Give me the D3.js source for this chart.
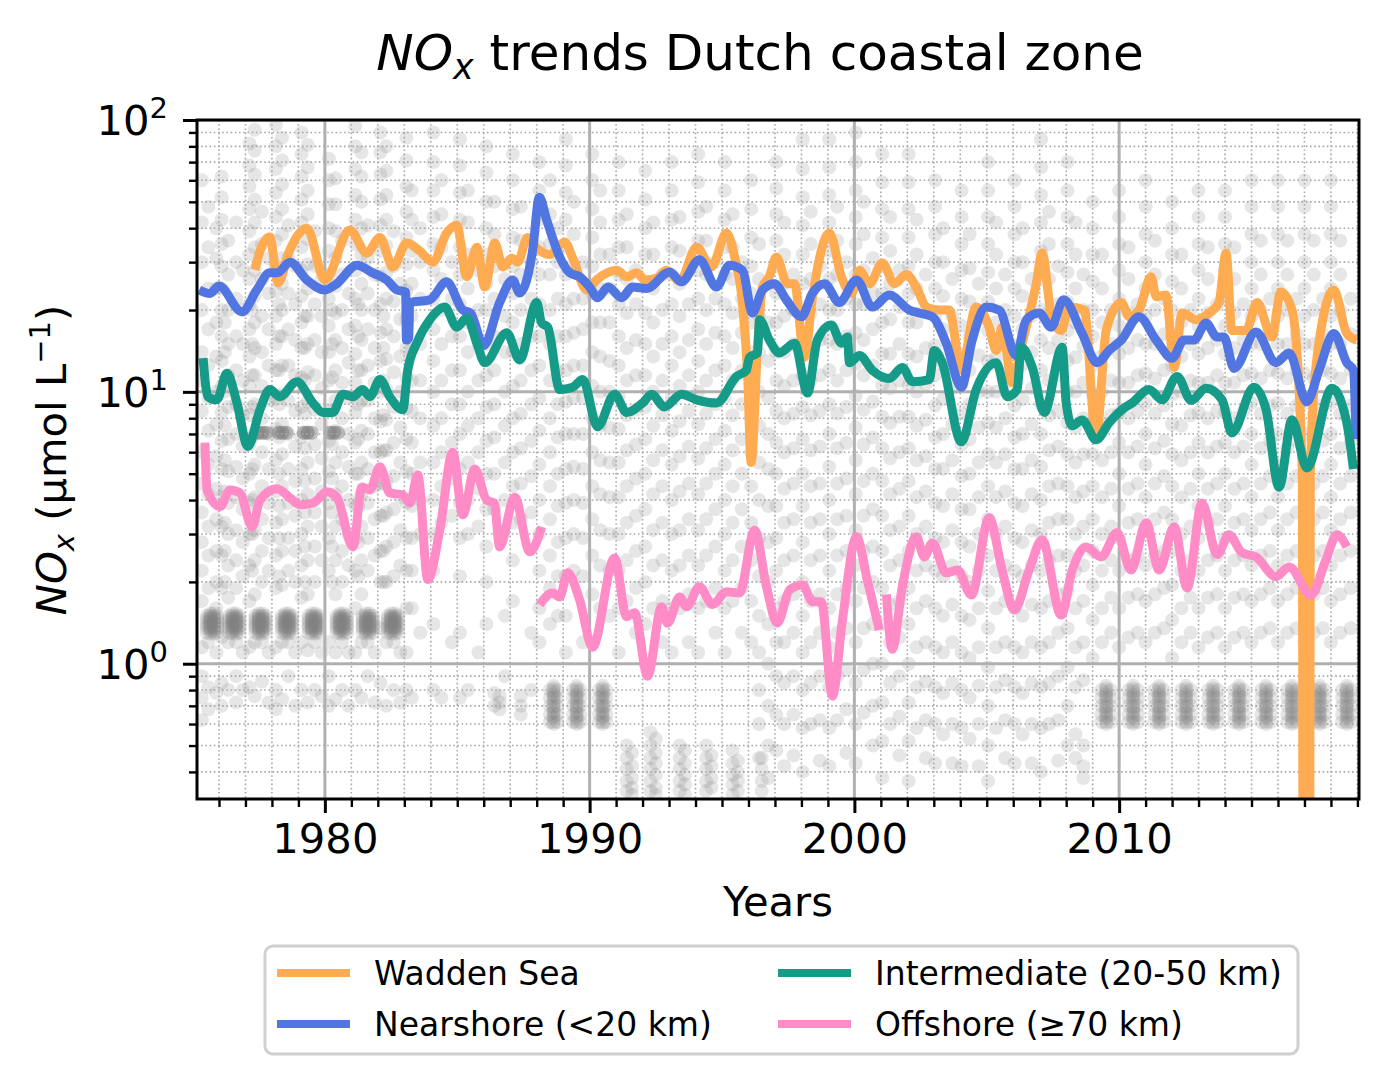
<!DOCTYPE html>
<html lang="en">
<head>
<meta charset="utf-8">
<title>NOx trends Dutch coastal zone</title>
<script src="https://cdn.jsdelivr.net/npm/d3@7"></script>
<style>
  body { margin: 0; background: #fff; overflow: hidden; }
  svg { display: block; }
  text { font-family: "DejaVu Sans", sans-serif; fill: #000; }
</style>
</head>
<body>
<script>
// ---- data: [year, value] ----
var wadden = [
  [1977.36,28.1],[1977.55,33],[1977.92,37.1],[1978.23,25.2],[1978.68,33.3],[1979.32,40],[1980.0,25.8],
  [1980.94,39.4],[1981.58,32.4],[1982.08,37],[1982.57,28.8],[1983.09,35.3],[1983.58,33],[1984.08,30],
  [1984.6,38.4],[1984.98,41],[1985.36,26.5],[1985.74,34],[1986.04,24.3],[1986.42,35.3],[1986.72,28.8],
  [1987.06,31],[1987.28,30],[1987.66,37],[1988.0,33.8],[1988.49,32],[1989.06,35.6],[1989.36,31],
  [1989.89,23.7],[1990.26,25.8],[1991.02,28],[1991.4,26.5],[1991.77,27.4],[1992.1,25.8],[1992.53,26.2],
  [1992.91,28],[1993.4,25.5],[1994.04,34],[1994.6,28.8],[1995.17,38.4],[1995.5,30.6],[1995.77,21.3],
  [1995.97,11.4],[1996.1,5.5],[1996.35,15.1],[1996.53,24.3],[1996.79,26.6],[1997.05,31.3],[1997.47,25],
  [1997.74,25],[1998.11,13.4],[1998.42,22.4],[1999.06,38.4],[1999.51,26.5],[1999.89,23],[2000.19,28],
  [2000.57,25],[2001.06,29.8],[2001.51,25],[2001.96,27],[2002.34,24.3],[2002.72,20.5],[2003.21,20],
  [2003.58,20],[2004.04,12],[2004.6,20.5],[2005.09,17.3],[2005.36,14.2],[2005.58,17.3],[2005.96,10.8],
  [2006.34,15.1],[2006.87,25],[2007.09,32.4],[2007.47,18.4],[2007.81,16.8],[2008.11,20.5],[2008.68,20],
  [2009.13,6.8],[2009.51,16.8],[2010.08,21.3],[2010.38,18.9],[2010.75,20],[2011.21,26.5],[2011.4,22.4],
  [2011.77,22.7],[2012.08,12.3],[2012.38,19.5],[2012.91,18.4],[2013.4,19.5],[2013.77,21.3],[2014.04,32.4],
  [2014.26,16.8],[2014.79,16.8],[2015.21,21.3],[2015.77,15.9],[2016.11,23.3],[2016.53,20],[2016.92,5],
  [2016.97,0.001],[2017.17,0.001],[2017.22,5],[2017.45,12.8],[2018.11,23.7],[2018.6,16.4],[2018.98,15.5]
];
var nearshore = [
  [1975.25,23.7],[1975.66,23],[1976.0,24.5],[1976.87,19.7],[1977.43,23.7],[1977.92,27.4],[1978.2,27.4],
  [1978.68,30],[1979.32,25.8],[1980.0,23.7],[1980.45,25],[1981.21,29.2],[1981.81,27.4],[1982.34,25.8],
  [1982.72,23.7],[1983.05,23.3],[1983.08,15.5],[1983.17,15.8],[1983.2,21.3],[1983.96,21.8],[1984.6,25.4],
  [1985.21,20],[1985.5,19.5],[1986.0,14.8],[1986.6,21.3],[1987.09,25.8],[1987.36,23.1],[1987.85,33.3],
  [1988.1,52],[1988.38,42.8],[1988.87,31.3],[1989.25,27.4],[1989.62,26.5],[1990.0,24.3],[1990.3,22.2],
  [1990.7,24.3],[1991.21,22.2],[1991.62,24.3],[1992.15,24],[1993.02,27.6],[1993.47,25.4],[1994.15,30.6],
  [1994.79,24.3],[1995.28,29.2],[1995.77,28],[1996.15,19.5],[1996.53,23.7],[1996.98,25],[1997.43,21.8],
  [1998.0,18.9],[1998.42,23.1],[1998.87,25],[1999.43,21.3],[2000.08,25.8],[2000.68,20.5],[2001.32,22.7],
  [2002.08,20],[2002.45,19.5],[2002.94,18.9],[2003.47,15.1],[2004.04,10.4],[2004.45,15.5],[2004.98,20.5],
  [2005.47,20],[2006.11,13.6],[2006.49,18.4],[2006.98,19.5],[2007.43,17.3],[2007.9,21.8],[2008.6,16.4],
  [2009.17,12.8],[2009.62,14.2],[2010.08,15.5],[2010.75,18.9],[2011.4,15.5],[2012.0,13.3],[2012.45,15.5],
  [2012.83,15.5],[2013.28,17.9],[2013.7,15.9],[2013.96,15.9],[2014.34,12.2],[2015.17,16.6],[2015.92,12.8],
  [2016.42,13.9],[2017.09,9.2],[2017.55,12],[2018.11,16.4],[2018.6,12.8],[2018.85,12],[2018.95,6.7]
];
var intermediate = [
  [1975.4,13.3],[1975.58,9.6],[1975.92,9.35],[1976.3,11.7],[1976.68,9.1],[1977.09,6.3],[1977.55,8.6],
  [1977.92,10.2],[1978.3,9.6],[1978.94,10.9],[1979.55,9.1],[1979.92,8.4],[1980.3,8.4],[1980.68,9.8],
  [1981.06,9.6],[1981.43,10.2],[1981.7,9.6],[1982.08,11.1],[1982.45,9.6],[1982.94,8.6],[1983.13,12],
  [1983.47,15.1],[1983.96,18.4],[1984.53,20.5],[1984.98,17.3],[1985.36,18.7],[1985.74,15.1],[1986.04,12.8],
  [1986.87,16.5],[1987.36,13.1],[1988.0,21.3],[1988.19,17.9],[1988.42,17.3],[1988.87,10.2],[1989.36,10.4],
  [1989.74,11.1],[1990.3,7.44],[1990.94,9.8],[1991.4,8.4],[1992.0,9.1],[1992.34,9.8],[1992.83,8.8],
  [1993.47,9.8],[1994.04,9.35],[1994.79,9.1],[1995.55,11.4],[1995.92,12],[1996.04,13.4],[1996.34,13.9],
  [1996.42,18.4],[1996.79,15.5],[1997.17,13.9],[1997.74,15.1],[1998.23,9.9],[1998.6,15.5],[1999.13,17.6],
  [1999.51,15.1],[1999.74,15.9],[1999.81,12.8],[2000.19,13.6],[2000.68,12],[2001.32,11.2],[2001.81,12.3],
  [2002.19,10.9],[2002.83,11.1],[2003.02,14.2],[2003.32,12.8],[2004.04,6.55],[2004.6,10.2],[2005.36,12.8],
  [2005.77,9.6],[2006.15,10.2],[2006.3,14.6],[2006.72,12.3],[2007.17,8.4],[2007.85,14.6],[2008.0,9.1],
  [2008.23,7.5],[2008.6,7.88],[2009.13,6.66],[2009.62,7.7],[2010.11,8.6],[2010.49,9.1],[2011.13,10.2],
  [2011.62,9.35],[2012.19,11.4],[2012.72,9.3],[2013.28,10.3],[2013.89,9.35],[2014.26,7.06],[2015.09,10.4],
  [2015.55,8.6],[2016.04,4.46],[2016.53,7.9],[2017.09,5.25],[2018.04,10.3],[2018.6,7.7],[2018.85,5.2]
];
// null marks a break in the line
var offshore = [
  [1975.47,6.5],[1975.55,4.36],[1976.04,3.78],[1976.42,4.36],[1976.79,4.25],[1977.25,3.19],[1977.55,4.0],
  [1978.19,4.4],[1978.68,4.08],[1979.06,3.84],[1979.55,3.9],[1980.08,4.29],[1980.45,4.1],[1981.06,2.69],
  [1981.4,4.47],[1981.7,4.36],[1982.08,5.3],[1982.45,4.25],[1982.94,4.18],[1983.21,3.9],[1983.51,4.95],
  [1983.89,2.04],[1984.34,3.1],[1984.83,6.0],[1985.21,3.53],[1985.66,5.2],[1986.11,4.0],[1986.4,3.9],
  [1986.6,2.69],[1987.17,4.1],[1987.74,2.58],[1988.19,3.19],null,
  [1988.11,1.65],[1988.6,1.82],[1988.87,1.76],[1989.17,2.16],[1989.62,1.72],[1990.11,1.15],[1990.94,2.45],
  [1991.4,1.49],[1991.7,1.54],[1992.19,0.9],[1992.72,1.62],[1992.94,1.41],[1993.4,1.76],[1993.66,1.62],
  [1994.15,1.92],[1994.64,1.65],[1995.17,1.84],[1995.66,1.82],[1996.23,3.1],[1996.68,1.92],[1997.09,1.41],
  [1997.55,1.87],[1998.04,1.95],[1998.42,1.69],[1998.75,1.69],[1999.17,0.76],[1999.55,1.45],[2000.08,2.93],
  [2000.49,2.03],[2000.94,1.33],null,
  [2001.21,1.8],[2001.43,1.13],[2001.81,1.92],[2002.34,2.93],[2002.64,2.47],[2002.94,2.78],[2003.47,2.16],
  [2003.89,2.21],[2004.42,1.79],[2005.09,3.44],[2005.58,2.21],[2006.04,1.58],[2006.6,2.21],[2007.09,2.86],
  [2007.81,1.51],[2008.23,2.21],[2008.75,2.69],[2009.32,2.47],[2009.92,3.03],[2010.45,2.21],[2011.02,3.3],
  [2011.51,2.21],[2012.08,3.19],[2012.57,1.9],[2013.13,3.9],[2013.7,2.52],[2014.15,2.98],[2014.64,2.56],
  [2015.17,2.47],[2015.92,2.09],[2016.42,2.27],[2017.25,1.79],[2017.81,2.41],[2018.23,2.98],[2018.6,2.69]
];

// background samples: [year, [values...]]
var samplesEarly = [
  [1975.35,[60,42,30,20,14,11,8.5,6,4.6,3.6,2.8,2.2,1.7,1.15,0.9,0.75,0.62]],
  [1975.6,[48,34,24,17,12.5,9.5,7.2,5.4,4.2,3.2,2.5,1.9,1.2,0.82,0.68]],
  [1975.9,[40,31,24,18,13.5,10,7.6,5.8,4.4,3.4,2.6,2,1.6,1.1,0.78]],
  [1976.1,[62,52,43,35,29,24,20,16,13,10.5,8.4,6.6,5.2,4.1,3.2,2.5,1.9,1.25,0.85,0.7]],
  [1976.22,[18,14,10,7.5,5.6,4.3,3.3,2.6,2]],
  [1976.35,[36,27,20,15,11.5,8.8,6.7,5.1,3.9,3,2.3,1.75,1.2,0.8]],
  [1976.65,[42,30,22,16,12,9,7,5.3,4.1,3.1,2.4,1.9,1.2,0.9,0.72]],
  [1976.9,[28,20,15,11,8.3,6.3,4.8,3.7,2.8,2.1,1.1,0.8]],
  [1977.15,[82,68,57,47,39,32,26,21,17,13.5,10.5,8.2,6.4,5,3.9,3,2.3,1.7,1.15,0.82]],
  [1977.25,[20,15,11.5,8.8,6.8,5.2,4,3,2.2]],
  [1977.35,[92,77,63,51,42,34,28,22.5,18,14.5,11.5,9,7,5.4,4.1,3.1,2.4,1.8,1.2,0.76]],
  [1977.62,[46,35,26,19,14,10.5,8,6,4.5,3.4,2.6,2,1.2,0.86]],
  [1977.88,[31,23,17,12.5,9.3,7,5.2,3.9,2.9,2.2,1.1,0.72]],
  [1978.15,[96,80,66,54,44,36,29,23.5,19,15,12,9.4,7.3,5.6,4.3,3.3,2.5,1.9,1.15,0.8,0.68]],
  [1978.27,[21,16,12,9,6.8,5,3.8,2.9,2.1]],
  [1978.38,[86,71,58,47,38,31,25,20,16,12.5,9.8,7.6,5.9,4.5,3.4,2.6,1.95,1.2,0.74]],
  [1978.62,[41,31,23,17,12.5,9.3,7,5.2,3.9,2.9,2.2,1.2,0.9]],
  [1978.88,[29,21,15.5,11.5,8.5,6.3,4.7,3.5,2.6,2,1.1,0.7]],
  [1979.12,[90,75,62,51,42,34,28,22.5,18,14.5,11.3,8.8,6.8,5.2,4,3,2.3,1.75,1.2,0.8]],
  [1979.24,[19,14.5,11,8.3,6.2,4.7,3.6,2.7,2]],
  [1979.35,[81,67,55,45,36.5,29.5,24,19,15,11.8,9.2,7.1,5.5,4.2,3.2,2.4,1.8,1.12,0.72]],
  [1979.62,[39,29,21,15.5,11.5,8.6,6.4,4.8,3.6,2.7,2,1.2,0.8]],
  [1979.88,[26,19,14,10.3,7.6,5.7,4.3,3.2,2.4,1.1,0.76]],
  [1980.15,[72,60,49,40,33,27,22,17.5,14,11,8.5,6.6,5.1,3.9,2.9,2.2,1.2,0.9,0.7]],
  [1980.27,[20,15,11.3,8.5,6.4,4.8,3.6,2.7,2]],
  [1980.4,[61,49,39,31,24.5,19.5,15.5,12,9.3,7.2,5.5,4.2,3.2,2.4,1.8,1.1,0.74]],
  [1980.65,[36,27,20,14.5,10.8,8,6,4.5,3.4,2.6,2,1.2,0.8]],
  [1980.9,[23,17,12.8,9.5,7,5.3,4,3,2.3,1.1,0.7]],
  [1981.15,[95,80,66,53,43,35,28,22,17.5,13.8,10.8,8.4,6.5,5,3.8,2.9,2.2,1.6,1.1,0.8]],
  [1981.26,[21,16,12,9,6.7,5,3.8,2.8,2.1]],
  [1981.38,[76,62,50,40,32,25,20,15.5,12,9.3,7.2,5.5,4.2,3.2,2.4,1.8,1.2,0.75]],
  [1981.62,[41,31,23,17,12.5,9.3,7,5.2,3.9,2.9,2.2,1.2,0.9]],
  [1981.88,[27,20,14.5,10.8,8,6,4.5,3.4,2.5,1.1,0.72]],
  [1982.1,[90,76,63,51,41,33,26.5,21,16.5,13,10,7.8,6,4.6,3.5,2.6,2,1.35,0.85]],
  [1982.21,[19,14.5,11,8.2,6.1,4.6,3.5,2.6,2]],
  [1982.32,[80,65,53,43,34.5,27.5,22,17,13.2,10.2,7.9,6.1,4.7,3.6,2.7,2,1.2,0.7]],
  [1982.6,[39,29,21.5,16,11.8,8.8,6.5,4.9,3.7,2.8,2.1,1.2,0.8]],
  [1982.85,[25,18.5,13.5,10,7.4,5.5,4.1,3.1,2.3,1.1,0.72]],
  [1983.08,[86,71,57,46,37,29.5,23.5,18.5,14.5,11.3,8.7,6.7,5.1,3.9,2.9,2.2,1.6,1.1,0.8]],
  [1983.28,[55,43,33,25,19,14.5,11,8.5,6.5,5,3.8,2.9,2.2,1.6,0.75]],
  // dashes near 7
  [1977.5,[7.07,7.07,7.07,7.07]],[1977.65,[7.07,7.07,7.07,7.07]],[1977.8,[7.07,7.07,7.07]],
  [1978.25,[7.07,7.07,7.07,7.07]],[1978.4,[7.07,7.07,7.07,7.07]],[1978.55,[7.07,7.07,7.07]],
  [1979.2,[7.07,7.07,7.07,7.07]],[1979.35,[7.07,7.07,7.07,7.07]],[1979.5,[7.07,7.07,7.07]],
  [1980.2,[7.07,7.07,7.07,7.07]],[1980.35,[7.07,7.07,7.07,7.07]],[1980.5,[7.07,7.07,7.07]],
  // blocks near 1.4
  [1975.54,[1.5,1.46,1.42,1.38,1.35,1.3]],[1975.67,[1.53,1.5,1.48,1.46,1.44,1.42,1.4,1.38,1.36,1.34,1.32,1.29]],[1975.81,[1.53,1.5,1.48,1.46,1.44,1.42,1.4,1.38,1.36,1.34,1.32,1.29]],[1975.94,[1.5,1.46,1.42,1.38,1.35,1.3]],
  [1976.38,[1.5,1.46,1.42,1.38,1.35,1.3]],[1976.51,[1.53,1.5,1.48,1.46,1.44,1.42,1.4,1.38,1.36,1.34,1.32,1.29]],[1976.65,[1.53,1.5,1.48,1.46,1.44,1.42,1.4,1.38,1.36,1.34,1.32,1.29]],[1976.78,[1.5,1.46,1.42,1.38,1.35,1.3]],
  [1977.37,[1.5,1.46,1.42,1.38,1.35,1.3]],[1977.5,[1.53,1.5,1.48,1.46,1.44,1.42,1.4,1.38,1.36,1.34,1.32,1.29]],[1977.64,[1.53,1.5,1.48,1.46,1.44,1.42,1.4,1.38,1.36,1.34,1.32,1.29]],[1977.77,[1.5,1.46,1.42,1.38,1.35,1.3]],
  [1978.37,[1.5,1.46,1.42,1.38,1.35,1.3]],[1978.5,[1.53,1.5,1.48,1.46,1.44,1.42,1.4,1.38,1.36,1.34,1.32,1.29]],[1978.64,[1.53,1.5,1.48,1.46,1.44,1.42,1.4,1.38,1.36,1.34,1.32,1.29]],[1978.77,[1.5,1.46,1.42,1.38,1.35,1.3]],
  [1979.38,[1.5,1.46,1.42,1.38,1.35,1.3]],[1979.51,[1.53,1.5,1.48,1.46,1.44,1.42,1.4,1.38,1.36,1.34,1.32,1.29]],[1979.65,[1.53,1.5,1.48,1.46,1.44,1.42,1.4,1.38,1.36,1.34,1.32,1.29]],[1979.78,[1.5,1.46,1.42,1.38,1.35,1.3]],
  [1980.44,[1.5,1.46,1.42,1.38,1.35,1.3]],[1980.57,[1.53,1.5,1.48,1.46,1.44,1.42,1.4,1.38,1.36,1.34,1.32,1.29]],[1980.71,[1.53,1.5,1.48,1.46,1.44,1.42,1.4,1.38,1.36,1.34,1.32,1.29]],[1980.84,[1.5,1.46,1.42,1.38,1.35,1.3]],
  [1981.42,[1.5,1.46,1.42,1.38,1.35,1.3]],[1981.55,[1.53,1.5,1.48,1.46,1.44,1.42,1.4,1.38,1.36,1.34,1.32,1.29]],[1981.69,[1.53,1.5,1.48,1.46,1.44,1.42,1.4,1.38,1.36,1.34,1.32,1.29]],[1981.82,[1.5,1.46,1.42,1.38,1.35,1.3]],
  [1982.37,[1.5,1.46,1.42,1.38,1.35,1.3]],[1982.5,[1.53,1.5,1.48,1.46,1.44,1.42,1.4,1.38,1.36,1.34,1.32,1.29]],[1982.64,[1.53,1.5,1.48,1.46,1.44,1.42,1.4,1.38,1.36,1.34,1.32,1.29]],[1982.77,[1.5,1.46,1.42,1.38,1.35,1.3]]
];
var samplesMid = [
  [1983.6,[40,30,22,15,11,8,5.5,4,3,1.3]],
  [1984.1,[90,70,55,44,35,28,22,17,13,10,7.5,5.5,4,3,2.2,1.4,0.8]],
  [1984.4,[60,45,34,26,20,15,11,8,6,4.5,3.3,0.75]],
  [1984.8,[30,22,16,12,9,6.5,4.8,3.5,1.2]],
  [1985.1,[85,68,54,43,34,27,21,16,12,9,7,5.2,3.9,2.9,2.1,1.3,0.75]],
  [1985.4,[55,42,32,24,18,14,10,7.5,5.5,4,3,0.8]],
  [1985.8,[28,20,15,11,8,6,4.4,3.2,1.1]],
  [1986.1,[80,64,50,40,32,25,20,15,11.5,8.8,6.6,5,3.7,2.7,2,1.4]],
  [1986.4,[50,38,29,22,16,12,9,6.8,5,3.7,0.78,0.7]],
  [1986.6,[0.76,0.68,0.72]],
  [1986.8,[26,19,14,10,7.5,5.5,4,1.5,0.9]],
  [1987.1,[75,60,47,37,29,23,18,14,10.5,8,6,4.5,3.3,2.4,1.7]],
  [1987.4,[48,36,27,20,15,11,8.3,6.2,4.6,3.4,0.76,0.7,0.65]],
  [1987.8,[30,22,16,12,9,6.6,4.9,3.6,1.3,0.8]],
  [1988.1,[70,55,43,34,27,21,16,12.5,9.5,7.2,5.4,4,3,2.2,1.6,1.2]],
  [1988.5,[60,45,35,27,20,15,11,8,6,4.5,3.4,2.5,1.9,1.4]],
  [1988.8,[40,30,22,16,12,9,6.8,5,3.8,2.8,2.1,1.5]],
  [1989.1,[85,68,54,43,34,27,21,16,12,9.2,7,5.2,3.9,2.9,2.1,1.5,1.1]],
  [1989.4,[50,38,29,22,16.5,12.5,9.5,7,5.3,4,3,2.2]],
  [1989.75,[30,22,17,12.5,9.5,7,5.2,3.9,2.9,2.1,1.2]],
  [1990.1,[75,60,47,37,29,23,18,14,10.5,8,6,4.5,3.4,2.5,1.8,1.2]],
  [1990.4,[55,42,32,24,18,13.5,10,7.5,5.6,4.2,3.1,2.3,1.6]],
  [1990.75,[32,24,18,13,10,7.4,5.5,4.1,3,2.2,1.5]],
  [1991.1,[70,55,43,34,27,21,16,12.5,9.6,7.3,5.5,4.1,3,2.2,1.6,1.1]],
  [1991.4,[45,34,26,19.5,14.5,11,8.2,6.1,4.5,3.3,2.4,1.7]],
  [1991.75,[28,21,15.5,11.5,8.6,6.4,4.8,3.5,2.6,1.9,1.3]],
  [1992.1,[65,51,40,32,25,19.5,15,11.5,8.8,6.7,5,3.7,2.7,2,1.4,1]],
  [1992.4,[42,32,24,18,13.5,10,7.5,5.6,4.2,3.1,2.3,1.6]],
  [1992.75,[27,20,15,11,8.2,6.1,4.5,3.3,2.4,1.7,1.2]],
  [1993.1,[70,55,43,34,27,21,16,12.5,9.5,7.2,5.4,4,3,2.2,1.6,1.1]],
  [1993.4,[44,33,25,19,14,10.5,7.8,5.8,4.3,3.1,2.3,1.6]],
  [1993.75,[28,21,15.5,11.5,8.5,6.3,4.6,3.4,2.5,1.8,1.2]],
  [1994.1,[75,59,46,36,28,22,17,13,10,7.6,5.7,4.2,3.1,2.3,1.6,1.1]],
  [1994.4,[48,36,27,20,15,11,8.3,6.2,4.6,3.4,2.5,1.7]],
  [1994.75,[30,22,16.5,12,9,6.7,5,3.7,2.7,1.9,1.3]],
  [1995.1,[70,55,43,34,27,21,16,12.5,9.5,7.2,5.4,4,3,2.2,1.6,1.1]],
  [1995.4,[45,34,26,19.5,14.5,11,8.2,6.1,4.5,3.3,2.4,1.7]],
  [1995.75,[30,22,16.5,12,9,6.7,5,3.7,2.7,1.9,1.3]],
  [1996.1,[60,47,37,29,23,18,14,10.5,8,6,4.5,3.3,2.4,1.7,1.2]],
  // blocks near 0.7
  [1988.5,[0.8,0.75,0.7,0.65,0.61]],[1988.64,[0.83,0.81,0.79,0.77,0.76,0.74,0.72,0.7,0.69,0.67,0.66,0.64,0.63,0.61,0.6]],[1988.78,[0.8,0.75,0.7,0.65,0.61]],
  [1989.37,[0.8,0.75,0.7,0.65,0.61]],[1989.51,[0.83,0.81,0.79,0.77,0.76,0.74,0.72,0.7,0.69,0.67,0.66,0.64,0.63,0.61,0.6]],[1989.65,[0.8,0.75,0.7,0.65,0.61]],
  [1990.35,[0.8,0.75,0.7,0.65,0.61]],[1990.49,[0.83,0.81,0.79,0.77,0.76,0.74,0.72,0.7,0.69,0.67,0.66,0.64,0.63,0.61,0.6]],[1990.63,[0.8,0.75,0.7,0.65,0.61]],
  // low columns
  [1991.4,[0.5,0.45,0.41,0.37,0.34]],[1991.6,[0.47,0.42,0.38,0.35,0.33]],
  [1992.3,[0.56,0.5,0.45,0.41,0.37,0.34]],[1992.5,[0.53,0.47,0.43,0.39,0.35,0.33]],
  [1993.4,[0.5,0.45,0.41,0.37,0.34]],[1993.6,[0.48,0.43,0.39,0.36,0.33]],
  [1994.4,[0.5,0.45,0.41,0.37,0.34]],[1994.6,[0.46,0.42,0.38,0.35]],
  [1995.4,[0.48,0.43,0.39,0.36,0.33]],[1995.6,[0.44,0.4,0.37,0.34]],
  [1996.5,[0.45,0.41,0.37,0.34]]
];
var samplesLate = [
  [1996.4,[35,26,19,14,10,7.5,5.5,4,2.9,2.1,1.5,1.1,0.8,0.6,0.45]],
  [1996.75,[25,18,13,9.5,7,5.2,3.8,2.8,2,1.4,1,0.7,0.5,0.38]],
  [1997.05,[70,56,45,36,29,23,18,14,11,8.5,6.5,5,3.8,2.9,2.2,1.6,1.2,0.9,0.65,0.48]],
  [1997.35,[42,32,25,19,14,10.5,8,6,4.4,3.3,2.4,1.7,1.2,0.85,0.6,0.42]],
  [1997.7,[27,20,15,11,8.3,6.2,4.6,3.4,2.5,1.8,1.3,0.9,0.65,0.46]],
  [1998.05,[85,66,52,41,32,25,19.5,15,11.5,8.8,6.7,5,3.8,2.8,2,1.5,1.1,0.8,0.58,0.4]],
  [1998.35,[46,35,26,19.5,14.5,11,8.2,6.1,4.5,3.3,2.4,1.7,1.2,0.85,0.6]],
  [1998.7,[29,21,15.5,11.5,8.5,6.3,4.6,3.4,2.5,1.8,1.3,0.9,0.62,0.44]],
  [1999.05,[85,67,53,42,33,26,20,15.5,12,9,7,5.3,4,3,2.2,1.6,1.15,0.82,0.58,0.42]],
  [1999.35,[48,36,27,20,15,11,8.3,6.2,4.6,3.4,2.5,1.8,1.3,0.9,0.62]],
  [1999.7,[30,22,16,12,8.8,6.5,4.8,3.5,2.6,1.9,1.35,0.95,0.68,0.47]],
  [2000.05,[90,70,55,44,35,27,21,16.5,12.7,9.7,7.4,5.6,4.2,3.1,2.3,1.7,1.2,0.85,0.6,0.43]],
  [2000.35,[50,38,28,21,15.5,11.5,8.6,6.4,4.7,3.5,2.6,1.9,1.35,0.95,0.66]],
  [2000.7,[31,23,17,12.5,9.2,6.8,5,3.7,2.7,2,1.4,1,0.7,0.5]],
  [2001.05,[75,59,47,37,29,23,18,13.8,10.6,8.1,6.2,4.7,3.5,2.6,1.9,1.4,1,0.72,0.52,0.38]],
  [2001.35,[44,33,25,18.5,13.8,10.3,7.7,5.7,4.2,3.1,2.3,1.65,1.2,0.85,0.6]],
  [2001.7,[28,20.5,15,11,8.1,6,4.4,3.2,2.4,1.7,1.25,0.9,0.64,0.46]],
  [2002.05,[75,59,47,37,29,23,18,13.8,10.6,8.1,6.2,4.7,3.5,2.6,1.9,1.4,1,0.72,0.52,0.37]],
  [2002.35,[43,32,24,18,13.5,10,7.5,5.6,4.1,3,2.2,1.6,1.15,0.82,0.58]],
  [2002.7,[27,20,14.5,10.7,7.9,5.8,4.3,3.2,2.3,1.7,1.2,0.86,0.62,0.45]],
  [2003.05,[60,48,38,30,24,19,14.8,11.5,8.9,6.8,5.2,3.9,2.9,2.2,1.6,1.15,0.82,0.6,0.43]],
  [2003.35,[40,30,22.5,17,12.6,9.4,7,5.2,3.8,2.8,2.1,1.5,1.1,0.78,0.55]],
  [2003.7,[26,19,14,10.3,7.6,5.6,4.2,3.1,2.3,1.65,1.2,0.85,0.6,0.43]],
  [2004.05,[55,44,35,28,22,17.5,13.7,10.7,8.3,6.4,4.9,3.7,2.8,2.1,1.5,1.1,0.8,0.58,0.42]],
  [2004.35,[38,28.5,21.5,16,12,9,6.7,5,3.7,2.7,2,1.45,1.05,0.75,0.53]],
  [2004.7,[25,18.5,13.6,10,7.4,5.5,4.1,3,2.2,1.6,1.15,0.83,0.6,0.42]],
  [2005.05,[70,55,44,35,27.5,21.5,16.8,13,10,7.7,5.9,4.5,3.4,2.5,1.85,1.35,0.97,0.7,0.5,0.37]],
  [2005.35,[42,32,24,18,13.4,10,7.4,5.5,4.1,3,2.2,1.6,1.15,0.82,0.58]],
  [2005.7,[27,20,14.7,10.8,8,5.9,4.3,3.2,2.3,1.7,1.2,0.87,0.62,0.45]],
  [2006.05,[60,48,38,30,24,19,14.8,11.5,8.9,6.8,5.2,3.9,2.9,2.2,1.6,1.15,0.82,0.6,0.43]],
  [2006.35,[40,30,22.5,17,12.6,9.4,7,5.2,3.8,2.8,2.1,1.5,1.1,0.78,0.55]],
  [2006.7,[26,19,14,10.3,7.6,5.6,4.2,3.1,2.3,1.65,1.2,0.85,0.6,0.43]],
  [2007.05,[85,67,53,42,33,26,20,15.5,12,9,7,5.3,4,3,2.2,1.6,1.15,0.82,0.58,0.4]],
  [2007.35,[46,35,26,19.5,14.5,11,8.2,6.1,4.5,3.3,2.4,1.7,1.2,0.85,0.6]],
  [2007.7,[29,21,15.5,11.5,8.5,6.3,4.6,3.4,2.5,1.8,1.3,0.9,0.62,0.44]],
  [2008.05,[70,55,44,35,27.5,21.5,16.8,13,10,7.7,5.9,4.5,3.4,2.5,1.85,1.35,0.97,0.7,0.5]],
  [2008.35,[42,32,24,18,13.4,10,7.4,5.5,4.1,3,2.2,1.6,1.15,0.82,0.55,0.45]],
  [2008.65,[27,20,14.7,10.8,8,5.9,4.3,3.2,2.3,1.7,1.2,0.87,0.5,0.42,0.38]],
  [2009.0,[50,40,32,25.5,20,16,12.5,9.8,7.6,5.9,4.5,3.4,2.6,1.95,1.45,1.05]],
  [2009.35,[32,24,18,13.5,10,7.5,5.6,4.1,3,2.2,1.6,1.2]],
  [2009.7,[20,15,11,8.2,6,4.4,3.2,2.4,1.75,1.3]],
  [2010.0,[55,44,35,28,22,17.5,13.8,10.8,8.4,6.5,5,3.8,2.9,2.2,1.6,1.15]],
  [2010.35,[34,26,19.5,14.5,10.8,8,6,4.4,3.3,2.4,1.75,1.25]],
  [2010.7,[21,15.5,11.5,8.5,6.3,4.6,3.4,2.5,1.8,1.3]],
  [2011.0,[60,48,38,30,24,19,15,11.7,9.1,7,5.4,4.1,3.1,2.3,1.7,1.2]],
  [2011.35,[36,27,20,15,11.2,8.3,6.2,4.6,3.4,2.5,1.8,1.3]],
  [2011.7,[22,16.3,12,8.9,6.6,4.9,3.6,2.6,1.9,1.35]],
  [2012.0,[50,40,32,25.5,20,16,12.5,9.8,7.6,5.9,4.5,3.4,2.6,1.95,1.45,1.05]],
  [2012.35,[32,24,18,13.5,10,7.5,5.6,4.1,3,2.2,1.6,1.2]],
  [2012.7,[20,15,11,8.2,6,4.4,3.2,2.4,1.75,1.3]],
  [2013.0,[55,44,35,28,22,17.5,13.8,10.8,8.4,6.5,5,3.8,2.9,2.2,1.6,1.15]],
  [2013.35,[34,26,19.5,14.5,10.8,8,6,4.4,3.3,2.4,1.75,1.25]],
  [2013.7,[21,15.5,11.5,8.5,6.3,4.6,3.4,2.5,1.8,1.3]],
  [2014.0,[55,44,35,28,22,17.5,13.8,10.8,8.4,6.5,5,3.8,2.9,2.2,1.6,1.15]],
  [2014.35,[34,26,19.5,14.5,10.8,8,6,4.4,3.3,2.4,1.75,1.25]],
  [2014.7,[21,15.5,11.5,8.5,6.3,4.6,3.4,2.5,1.8,1.3]],
  [2015.0,[60,48,38,30,24,19,15,11.7,9.1,7,5.4,4.1,3.1,2.3,1.7,1.2]],
  [2015.35,[36,27,20,15,11.2,8.3,6.2,4.6,3.4,2.5,1.8,1.3]],
  [2015.7,[22,16.3,12,8.9,6.6,4.9,3.6,2.6,1.9,1.35]],
  [2016.0,[60,48,38,30,24,19,15,11.7,9.1,7,5.4,4.1,3.1,2.3,1.7,1.2]],
  [2016.35,[36,27,20,15,11.2,8.3,6.2,4.6,3.4,2.5,1.8,1.3]],
  [2016.7,[22,16.3,12,8.9,6.6,4.9,3.6,2.6,1.9,1.35]],
  [2017.0,[60,48,38,30,24,19,15,11.7,9.1,7,5.4,4.1,3.1,2.3,1.7,1.2]],
  [2017.35,[36,27,20,15,11.2,8.3,6.2,4.6,3.4,2.5,1.8,1.3]],
  [2017.7,[22,16.3,12,8.9,6.6,4.9,3.6,2.6,1.9,1.35]],
  [2018.0,[60,48,38,30,24,19,15,11.7,9.1,7,5.4,4.1,3.1,2.3,1.7,1.2]],
  [2018.35,[36,27,20,15,11.2,8.3,6.2,4.6,3.4,2.5,1.8,1.3]],
  [2018.75,[22,16.3,12,8.9,6.6,4.9,3.6,2.6,1.9,1.35]],
  // blocks near 0.7
  [2009.33,[0.8,0.75,0.7,0.65,0.61]],[2009.51,[0.83,0.81,0.79,0.77,0.76,0.74,0.72,0.7,0.69,0.67,0.66,0.64,0.63,0.61,0.6]],[2009.69,[0.8,0.75,0.7,0.65,0.61]],
  [2010.35,[0.8,0.75,0.7,0.65,0.61]],[2010.53,[0.83,0.81,0.79,0.77,0.76,0.74,0.72,0.7,0.69,0.67,0.66,0.64,0.63,0.61,0.6]],[2010.71,[0.8,0.75,0.7,0.65,0.61]],
  [2011.33,[0.8,0.75,0.7,0.65,0.61]],[2011.51,[0.83,0.81,0.79,0.77,0.76,0.74,0.72,0.7,0.69,0.67,0.66,0.64,0.63,0.61,0.6]],[2011.69,[0.8,0.75,0.7,0.65,0.61]],
  [2012.35,[0.8,0.75,0.7,0.65,0.61]],[2012.53,[0.83,0.81,0.79,0.77,0.76,0.74,0.72,0.7,0.69,0.67,0.66,0.64,0.63,0.61,0.6]],[2012.71,[0.8,0.75,0.7,0.65,0.61]],
  [2013.37,[0.8,0.75,0.7,0.65,0.61]],[2013.55,[0.83,0.81,0.79,0.77,0.76,0.74,0.72,0.7,0.69,0.67,0.66,0.64,0.63,0.61,0.6]],[2013.73,[0.8,0.75,0.7,0.65,0.61]],
  [2014.35,[0.8,0.75,0.7,0.65,0.61]],[2014.53,[0.83,0.81,0.79,0.77,0.76,0.74,0.72,0.7,0.69,0.67,0.66,0.64,0.63,0.61,0.6]],[2014.71,[0.8,0.75,0.7,0.65,0.61]],
  [2015.37,[0.8,0.75,0.7,0.65,0.61]],[2015.55,[0.83,0.81,0.79,0.77,0.76,0.74,0.72,0.7,0.69,0.67,0.66,0.64,0.63,0.61,0.6]],[2015.73,[0.8,0.75,0.7,0.65,0.61]],
  [2016.35,[0.8,0.75,0.7,0.65,0.61]],[2016.53,[0.83,0.81,0.79,0.77,0.76,0.74,0.72,0.7,0.69,0.67,0.66,0.64,0.63,0.61,0.6]],[2016.71,[0.8,0.75,0.7,0.65,0.61]],
  [2017.4,[0.8,0.75,0.7,0.65,0.61]],[2017.58,[0.83,0.81,0.79,0.77,0.76,0.74,0.72,0.7,0.69,0.67,0.66,0.64,0.63,0.61,0.6]],[2017.76,[0.8,0.75,0.7,0.65,0.61]],
  [2018.42,[0.8,0.75,0.7,0.65,0.61]],[2018.6,[0.83,0.81,0.79,0.77,0.76,0.74,0.72,0.7,0.69,0.67,0.66,0.64,0.63,0.61,0.6]],[2018.78,[0.8,0.75,0.7,0.65,0.61]]
];

var seriesNames = ["Wadden Sea", "Nearshore (<20 km)", "Intermediate (20-50 km)", "Offshore (\u226570 km)"];
var seriesColors = ["#ffab52", "#5176e2", "#169b89", "#ff8cc6"];
var xMajorTicks = [1980, 1990, 2000, 2010];
var yMajorTicks = [1, 10, 100];

// ---- layout ----
var W = 1389, H = 1086;
var pLeft = 197, pRight = 1359, pTop = 120, pBottom = 799;

var svg = d3.select("body").append("svg")
  .attr("width", W).attr("height", H);
svg.append("rect").attr("width", W).attr("height", H).attr("fill", "#fff");

var x = d3.scaleLinear().domain([1975.17, 2019.06]).range([pLeft, pRight]);
var y = d3.scaleLog().domain([0.318, 100]).range([pBottom, pTop]);

svg.append("clipPath").attr("id", "plotclip")
  .append("rect").attr("x", pLeft).attr("y", pTop)
  .attr("width", pRight - pLeft).attr("height", pBottom - pTop);

var plot = svg.append("g").attr("clip-path", "url(#plotclip)");

// scatter of samples
var samples = [];
samplesEarly.concat(samplesMid, samplesLate).forEach(function(c) {
  c[1].forEach(function(v) { samples.push([c[0], v]); });
});
plot.append("g").selectAll("circle")
  .data(samples)
  .enter().append("circle")
  .attr("cx", function(d) { return x(d[0]); })
  .attr("cy", function(d) { return y(d[1]); })
  .attr("r", 7)
  .attr("fill", "#808080")
  .attr("fill-opacity", 0.2);

// grid
var yearsMinor = d3.range(1976, 2020).filter(function(v) { return v % 10 !== 0; });
var yMinor = [];
[0.1, 1, 10].forEach(function(p) {
  for (var k = 2; k <= 9; k++) yMinor.push(p * k);
});
yMinor = yMinor.filter(function(v) { return v > 0.318 && v < 100; });

var grid = plot.append("g");
grid.selectAll(".gxm").data(yearsMinor).enter().append("line")
  .attr("x1", function(d) { return x(d); }).attr("x2", function(d) { return x(d); })
  .attr("y1", pTop).attr("y2", pBottom)
  .attr("stroke", "#a8a8a8").attr("stroke-width", 1.6).attr("stroke-dasharray", "1.6,2.6");
grid.selectAll(".gym").data(yMinor).enter().append("line")
  .attr("x1", pLeft).attr("x2", pRight)
  .attr("y1", function(d) { return y(d); }).attr("y2", function(d) { return y(d); })
  .attr("stroke", "#a8a8a8").attr("stroke-width", 1.6).attr("stroke-dasharray", "1.6,2.6");
grid.selectAll(".gx").data(xMajorTicks).enter().append("line")
  .attr("x1", function(d) { return x(d); }).attr("x2", function(d) { return x(d); })
  .attr("y1", pTop).attr("y2", pBottom)
  .attr("stroke", "#b0b0b0").attr("stroke-width", 3);
grid.selectAll(".gy").data(yMajorTicks).enter().append("line")
  .attr("x1", pLeft).attr("x2", pRight)
  .attr("y1", function(d) { return y(d); }).attr("y2", function(d) { return y(d); })
  .attr("stroke", "#b0b0b0").attr("stroke-width", 3);

// lines
var line = d3.line()
  .defined(function(d) { return d !== null; })
  .x(function(d) { return x(d[0]); })
  .y(function(d) { return y(d[1]); })
  .curve(d3.curveMonotoneX);

[wadden, nearshore, intermediate, offshore].forEach(function(s, i) {
  plot.append("path")
    .datum(s)
    .attr("d", line)
    .attr("fill", "none")
    .attr("stroke", seriesColors[i])
    .attr("stroke-width", 9)
    .attr("stroke-linejoin", "round")
    .attr("stroke-linecap", "butt");
});

// axes
var xAxis = d3.axisBottom(x).tickValues(xMajorTicks).tickFormat(d3.format("d"))
  .tickSize(14).tickPadding(10);
var gx = svg.append("g").attr("transform", "translate(0," + pBottom + ")").call(xAxis);
gx.select(".domain").remove();
gx.selectAll("line").attr("stroke", "#000").attr("stroke-width", 3);
gx.selectAll("text").attr("font-size", 41.7).attr("font-family", "DejaVu Sans").attr("dy", "0.71em");

var gxMinor = svg.append("g").attr("transform", "translate(0," + pBottom + ")")
  .call(d3.axisBottom(x).tickValues(yearsMinor).tickFormat("").tickSize(8));
gxMinor.select(".domain").remove();
gxMinor.selectAll("line").attr("stroke", "#000").attr("stroke-width", 2.4);

var gy = svg.append("g").attr("transform", "translate(" + pLeft + ",0)")
  .call(d3.axisLeft(y).tickValues(yMajorTicks).tickFormat("").tickSize(14));
gy.select(".domain").remove();
gy.selectAll("line").attr("stroke", "#000").attr("stroke-width", 3);

var gyMinor = svg.append("g").attr("transform", "translate(" + pLeft + ",0)")
  .call(d3.axisLeft(y).tickValues(yMinor).tickFormat("").tickSize(8));
gyMinor.select(".domain").remove();
gyMinor.selectAll("line").attr("stroke", "#000").attr("stroke-width", 2.4);

// y tick labels 10^k
yMajorTicks.forEach(function(v) {
  var t = svg.append("text")
    .attr("x", 168).attr("y", y(v) + 15)
    .attr("text-anchor", "end")
    .attr("font-size", 41.7);
  t.append("tspan").text("10");
  t.append("tspan").attr("font-size", 29).attr("dy", -17).text(Math.round(Math.log10(v)));
});

// frame
svg.append("rect")
  .attr("x", pLeft).attr("y", pTop)
  .attr("width", pRight - pLeft).attr("height", pBottom - pTop)
  .attr("fill", "none").attr("stroke", "#000").attr("stroke-width", 3);

// title
var title = svg.append("text")
  .attr("x", 760).attr("y", 70)
  .attr("text-anchor", "middle")
  .attr("font-size", 50);
title.append("tspan").attr("font-style", "italic").text("NO");
title.append("tspan").attr("font-style", "italic").attr("font-size", 35).attr("dy", 9).text("x");
title.append("tspan").attr("dy", -9).text(" trends Dutch coastal zone");

// axis labels
svg.append("text")
  .attr("x", (pLeft + pRight) / 2).attr("y", 916)
  .attr("text-anchor", "middle")
  .attr("font-size", 41.7)
  .text("Years");

var ylab = svg.append("text")
  .attr("transform", "translate(66,460) rotate(-90)")
  .attr("text-anchor", "middle")
  .attr("font-size", 41.7);
ylab.append("tspan").attr("font-style", "italic").text("NO");
ylab.append("tspan").attr("font-style", "italic").attr("font-size", 29).attr("dy", 8).text("x");
ylab.append("tspan").attr("dy", -8).text(" (\u00b5mol L");
ylab.append("tspan").attr("font-size", 29).attr("dy", -16).text("\u22121");
ylab.append("tspan").attr("dy", 16).text(")");

// legend
var legend = svg.append("g");
legend.append("rect")
  .attr("x", 265).attr("y", 946).attr("width", 1033).attr("height", 108)
  .attr("rx", 8).attr("fill", "#fff").attr("stroke", "#d0d0d0").attr("stroke-width", 3);

var legendPos = [[277, 973], [277, 1024], [778, 973], [778, 1024]];
seriesNames.forEach(function(name, i) {
  var p = legendPos[i];
  legend.append("line")
    .attr("x1", p[0]).attr("x2", p[0] + 73)
    .attr("y1", p[1]).attr("y2", p[1])
    .attr("stroke", seriesColors[i]).attr("stroke-width", 8);
  legend.append("text")
    .attr("x", p[0] + 97).attr("y", p[1] + 12)
    .attr("font-size", 33)
    .text(name);
});
</script>
</body>
</html>
